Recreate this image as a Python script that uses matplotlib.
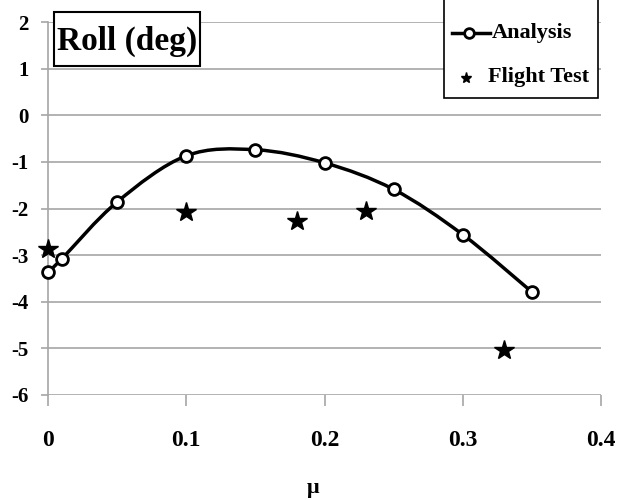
import matplotlib
matplotlib.use("Agg")
import matplotlib.pyplot as plt
import numpy as np
from matplotlib.path import Path
from matplotlib.patches import PathPatch, Rectangle
from matplotlib.lines import Line2D

analysis_x = [0.0, 0.01, 0.05, 0.10, 0.15, 0.20, 0.25, 0.30, 0.35]
analysis_y = [-3.37, -3.08, -1.86, -0.87, -0.74, -1.02, -1.59, -2.56, -3.79]
flight_x = [0.0, 0.10, 0.18, 0.23, 0.33]
flight_y = [-2.87, -2.07, -2.27, -2.05, -5.03]
xticks = [0, 0.1, 0.2, 0.3, 0.4]
xtick_labels = ["0", "0.1", "0.2", "0.3", "0.4"]
yticks = [-6, -5, -4, -3, -2, -1, 0, 1, 2]

plt.rcParams['font.family'] = ['Liberation Serif', 'DejaVu Serif']
plt.rcParams['font.weight'] = 'bold'

W, H = 624, 500
fig = plt.figure(figsize=(6.24, 5.0), dpi=100)
ax = fig.add_axes([48/W, 1-395/H, (601-48)/W, (395-22)/H])
ax.set_xlim(0, 0.4)
ax.set_ylim(-6, 2)

grid_c = '#a6a6a6'
for s in ['top', 'right', 'bottom']:
    ax.spines[s].set_visible(False)
ax.spines['left'].set_color(grid_c)
ax.spines['left'].set_linewidth(1.2)
ax.set_yticks(yticks)
ax.set_yticklabels([str(v) for v in yticks], fontsize=15, fontweight='bold')
ax.set_xticks(xticks)
ax.set_xticklabels(xtick_labels, fontsize=17, fontweight='bold')
ax.tick_params(axis='y', color=grid_c, length=5, width=1.2, pad=9)
ax.tick_params(axis='x', color=grid_c, length=8, width=1.2, pad=17)
ax.yaxis.grid(True, color=grid_c, linewidth=1.2)
ax.set_axisbelow(True)

# smooth curve through analysis points (Catmull-Rom -> cubic Bezier)
pts = np.column_stack([analysis_x, analysis_y])
verts = [tuple(pts[0])]
codes = [Path.MOVETO]
n = len(pts)
for i in range(n - 1):
    p0 = pts[i - 1] if i > 0 else pts[i]
    p1 = pts[i]
    p2 = pts[i + 1]
    p3 = pts[i + 2] if i + 2 < n else pts[i + 1]
    c1 = p1 + (p2 - p0) / 6.0
    c2 = p2 - (p3 - p1) / 6.0
    verts += [tuple(c1), tuple(c2), tuple(p2)]
    codes += [Path.CURVE4] * 3
patch = PathPatch(Path(verts, codes), facecolor='none', edgecolor='black',
                  linewidth=2.5, transform=ax.transData, zorder=3)
ax.add_patch(patch)
ax.plot(analysis_x, analysis_y, linestyle='none', marker='o', markersize=8.5,
        markerfacecolor='white', markeredgecolor='black', markeredgewidth=2, zorder=4,
        clip_on=False)
ax.plot(flight_x, flight_y, linestyle='none', marker='*', markersize=15,
        color='black', zorder=4, clip_on=False)

fig.text(313/W, 1-488/H, 'μ', ha='center', va='center', fontsize=16, fontweight='bold')

# title box
fig.add_artist(Rectangle((54/W, 1-66/H), (200-54)/W, (66-12)/H, transform=fig.transFigure,
                         facecolor='white', edgecolor='black', linewidth=1.5, zorder=5))
fig.text(127/W, 1-41/H, 'Roll (deg)', ha='center', va='center', fontsize=24,
         fontweight='bold', zorder=6)

# legend box
fig.add_artist(Rectangle((444/W, 1-98/H), (598-444)/W, 110/H, transform=fig.transFigure,
                         facecolor='white', edgecolor='black', linewidth=1.2, zorder=5))
fig.add_artist(Line2D([452/W, 490/W], [1-33/H, 1-33/H], transform=fig.transFigure,
                      color='black', linewidth=2.5, zorder=6))
fig.add_artist(Line2D([469/W], [1-33/H], transform=fig.transFigure, marker='o',
                      markersize=7, markerfacecolor='white', markeredgecolor='black',
                      markeredgewidth=2, zorder=7))
fig.add_artist(Line2D([466/W], [1-78/H], transform=fig.transFigure, marker='*',
                      markersize=8, color='black', linestyle='none', zorder=7))
fig.text(492/W, 1-33/H, 'Analysis', ha='left', va='center', fontsize=16,
         fontweight='bold', zorder=7)
fig.text(488/W, 1-77/H, 'Flight Test', ha='left', va='center', fontsize=16,
         fontweight='bold', zorder=7)

fig.savefig('out.png', dpi=100, facecolor='white')
